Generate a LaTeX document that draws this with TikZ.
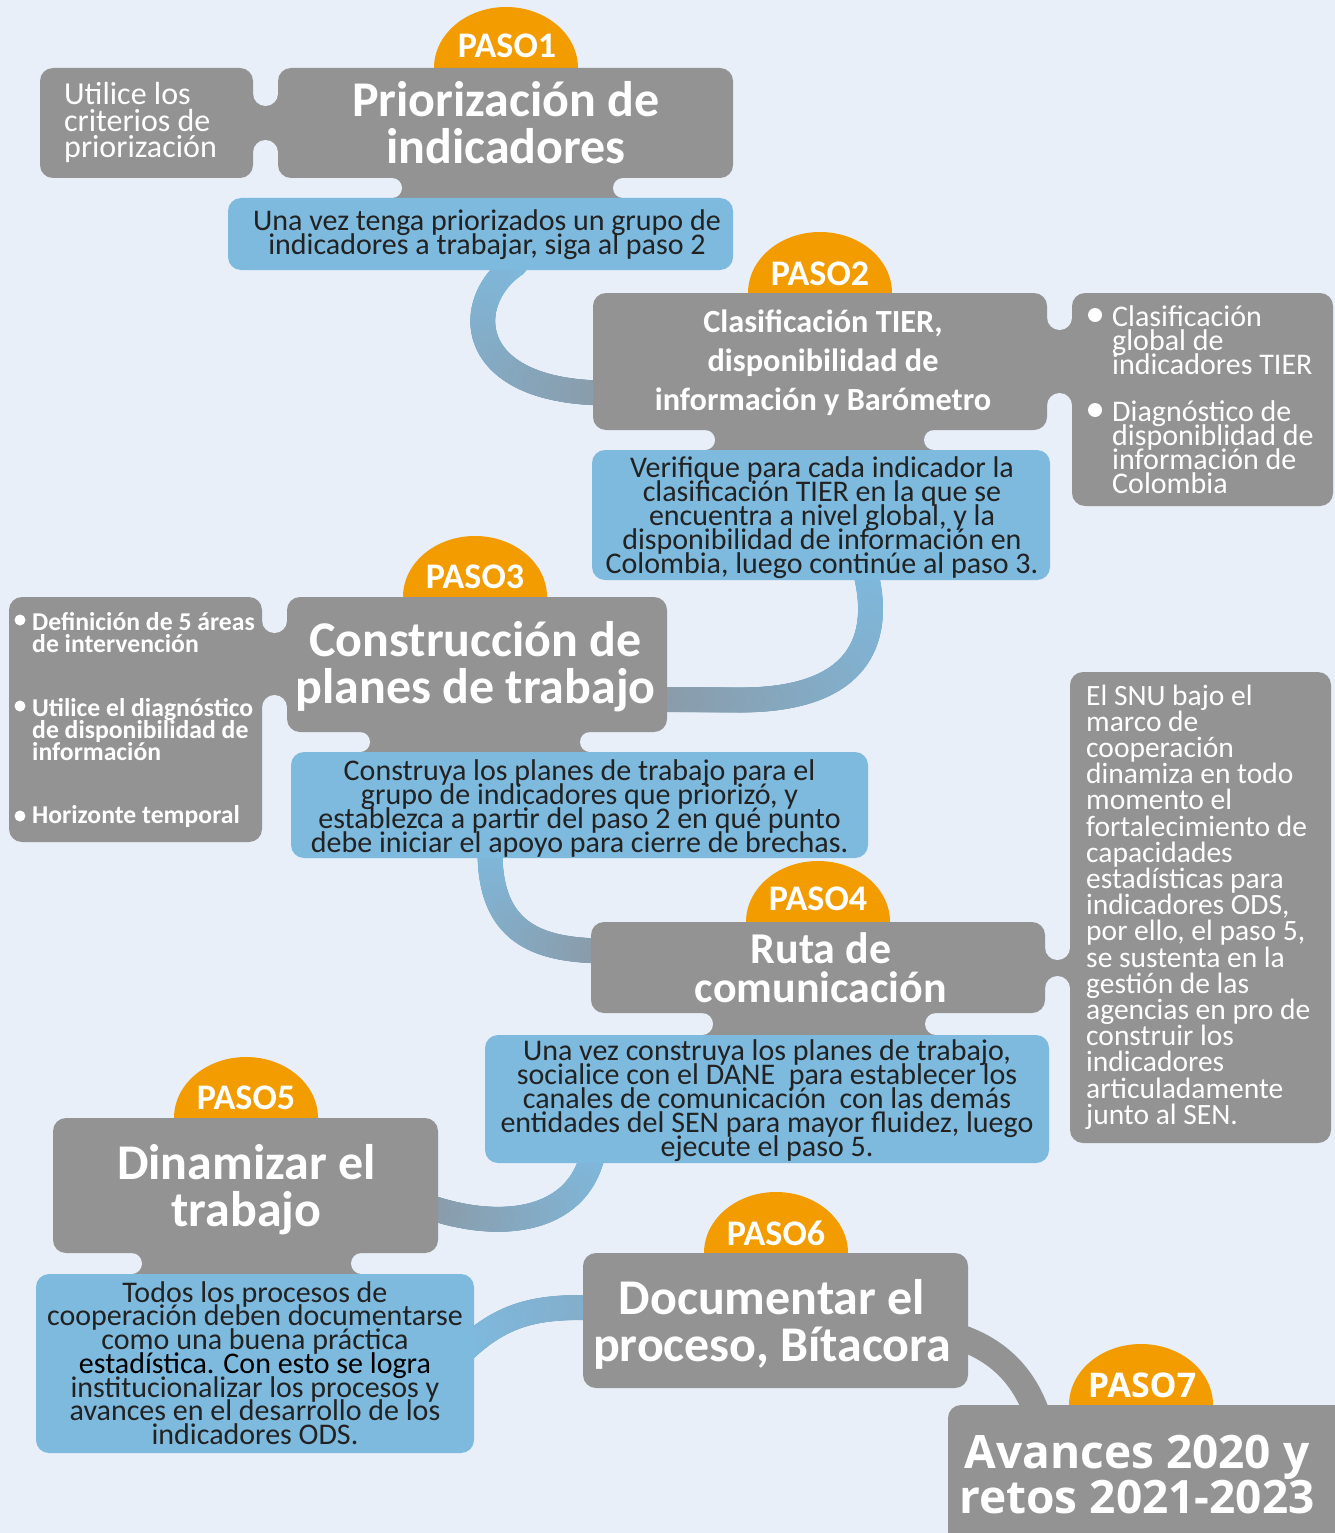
\documentclass[tikz,border=0pt]{standalone}
\usepackage{fontspec}
\setmainfont{Carlito}
\newfontfamily\osans{Open Sans}
\usetikzlibrary{shapes.geometric,decorations.markings}
\definecolor{bgc}{RGB}{232,239,249}
\definecolor{boxgray}{RGB}{147,147,147}
\definecolor{boxblue}{RGB}{126,185,222}
\definecolor{pasoorange}{RGB}{243,156,0}
\definecolor{txtdark}{RGB}{34,34,34}
\definecolor{congray}{RGB}{138,156,170}
\definecolor{conmid}{RGB}{132,172,200}
\pgfdeclarelayer{bglayer}
\pgfdeclarelayer{bandlayer}
\pgfsetlayers{bglayer,bandlayer,main}
\newcommand\fs[2]{\fontsize{#1}{#2}\selectfont\lineskiplimit=-1000pt\relax}
\newcommand\mkbox[6]{%
  \node[#1, minimum width={#5-#3}, minimum height={#6-#4}] (#2) at ({(#3+#5)/2},{(#4+#6)/2}) {};}
\newcommand\hneck[4]{%
  \pgfmathsetmacro\neckr{(#2-#1)/2}%
  \pgfmathsetmacro\neckc{(#1+#2)/2}%
  \fill[boxgray] ({#1-1},{#3-\neckr}) rectangle ({#2+1},{#4+\neckr});
  \fill[bgc] (\neckc,{#3-\neckr}) circle[radius=\neckr pt];
  \fill[bgc] (\neckc,{#4+\neckr}) circle[radius=\neckr pt];}
\newcommand\vneck[4]{%
  \pgfmathsetmacro\neckr{(#4-#3)/2}%
  \pgfmathsetmacro\neckc{(#3+#4)/2}%
  \fill[boxgray] ({#1-\neckr},{#3-1}) rectangle ({#2+\neckr},{#4+1});
  \fill[bgc] ({#1-\neckr},\neckc) circle[radius=\neckr pt];
  \fill[bgc] ({#2+\neckr},\neckc) circle[radius=\neckr pt];}
\tikzset{
  box/.style={rectangle, rounded corners=13pt, inner sep=0pt, draw=none},
  graybox/.style={box, fill=boxgray},
  bluebox/.style={box, fill=boxblue},
  dome/.style={ellipse, fill=pasoorange, inner sep=0pt, minimum width=144pt, minimum height=122pt},
  pasotxt/.style={text=white, font=\fs{36}{36}\bfseries, inner sep=0pt},
  titletxt/.style={text=white, font=\fs{50}{47}\bfseries, align=center, inner sep=0pt},
  bluetxt/.style={text=txtdark, font=\fs{30}{24}, align=center, inner sep=0pt},
  sidetxt/.style={text=white, align=left, inner sep=0pt, anchor=west},
  gband/.style 2 args={postaction={decorate, decoration={markings,
    mark=between positions 0 and 1 step 1pt with {%
      \pgfmathsetmacro\fracv{(\pgfkeysvalueof{/pgf/decoration/mark info/distance from start})/(\pgfdecoratedpathlength)}%
      \pgfmathsetmacro\mixv{max(0,min(100,100-100*\fracv))}%
      \fill[#1!\mixv!#2] (0,0) circle (12.5pt);}}}},
}
\begin{document}
\begin{tikzpicture}[x=1pt,y=-1pt]
\useasboundingbox (0,0) rectangle (1335,1533);
\begin{pgfonlayer}{bglayer}
\fill[bgc] (0,0) rectangle (1335,1533);
\end{pgfonlayer}
% domes
\node[dome] (d1) at (506,68) {};
\node[dome] (d2) at (820,293) {};
\node[dome] (d3) at (475,597) {};
\node[dome] (d4) at (818,922) {};
\node[dome] (d5) at (246,1118) {};
\node[dome] (d6) at (776,1253) {};
\node[dome] (d7) at (1141,1405) {};
% necks
\hneck{253}{278}{106}{140}
\hneck{1047}{1072}{330}{393}
\hneck{262}{287}{633}{695}
\hneck{1045}{1070}{960}{976}
\vneck{402}{613}{178}{198}
\vneck{715}{924}{430}{450}
\vneck{370}{580}{732}{752}
\vneck{713}{925}{1013}{1035}
\vneck{142}{351}{1253}{1274}
% boxes
\mkbox{graybox}{s1}{40}{68}{253}{178}
\mkbox{graybox}{b1}{278}{68}{733}{178}
\mkbox{bluebox}{t1}{228}{198}{733}{270}
\mkbox{graybox}{b2}{593}{293}{1047}{430}
\mkbox{graybox}{s2}{1072}{293}{1333}{506}
\mkbox{bluebox}{t2}{592}{450}{1050}{580}
\mkbox{graybox}{b3}{287}{597}{667}{732}
\mkbox{graybox}{s3}{9}{597}{262}{842}
\mkbox{bluebox}{t3}{291}{752}{868}{858}
\mkbox{graybox}{b4}{591}{922}{1045}{1013}
\mkbox{graybox}{s4}{1070}{672}{1331}{1143}
\mkbox{bluebox}{t4}{485}{1035}{1049}{1163}
\mkbox{graybox}{b5}{53}{1118}{438}{1253}
\mkbox{bluebox}{t5}{36}{1274}{474}{1453}
\mkbox{graybox}{b6}{583}{1253}{968}{1388}
\mkbox{graybox}{b7}{948}{1405}{1350}{1560}
% connectors
\begin{pgfonlayer}{bandlayer}
\coordinate (A1) at ([xshift=35pt,yshift=6pt]t1.south);
\coordinate (A2) at ([xshift=15pt,yshift=-31.5pt]b2.west);
\path[gband={boxblue}{congray}] (A1) .. controls (462,300) and (462,393) .. (A2);
\coordinate (B1) at ([xshift=45pt,yshift=6pt]t2.south);
\coordinate (B2) at ([xshift=-12pt,yshift=-35pt]b3.east);
\path[gband={boxblue}{congray}] (B1) .. controls (876,615) and (882,700) .. (740,700) -- (B2);
\coordinate (C1) at ([xshift=-89.5pt,yshift=6pt]t3.south);
\coordinate (C2) at ([xshift=12pt,yshift=16.5pt]b4.west);
\path[gband={boxblue}{congray}] (C1) .. controls (490,935) and (540,950) .. (C2);
\coordinate (D1) at ([xshift=-175pt,yshift=6pt]t4.south);
\coordinate (D2) at ([xshift=-12pt,yshift=-20.5pt]b5.east);
\path[gband={boxblue}{congray}] (D1) .. controls (575,1222) and (500,1232) .. (D2);
\coordinate (E1) at ([xshift=12pt,yshift=12.5pt]b6.west);
\coordinate (E2) at ([xshift=-12pt,yshift=11.5pt]t5.east);
\path[gband={conmid}{boxblue}] (E1) .. controls (530,1305) and (498,1318) .. (E2);
\coordinate (F1) at ([xshift=-12pt,yshift=-15.5pt]b6.east);
\coordinate (F2) at ([xshift=-111pt,yshift=-12pt]b7.north);
\draw[boxgray, line width=26pt] (F1) .. controls (1000,1350) and (1025,1378) .. (F2);
\end{pgfonlayer}
% PASO labels
\node[pasotxt] (p1) at (507,46) {PASO1};
\node[pasotxt] (p2) at (820,274) {PASO2};
\node[pasotxt] (p3) at (475,577) {PASO3};
\node[pasotxt] (p4) at (818,899) {PASO4};
\node[pasotxt] (p5) at (246,1098) {PASO5};
\node[pasotxt] (p6) at (776,1233) {PASO6};
\node[pasotxt, font=\osans\fs{34}{34}\bfseries] (p7) at (1142,1385) {PASO7};
% step 1
\node[sidetxt, font=\fs{32}{26.5}] (s1t) at (64,122.5) {Utilice los\\criterios de\\priorización};
\node[titletxt] (b1t) at (506,123) {Priorización de\\indicadores};
\node[bluetxt] (t1t) at (487,235) {Una vez tenga priorizados un grupo de\\indicadores a trabajar, siga al paso 2};
% step 2
\node[titletxt, font=\fs{32.3}{39}\bfseries] (b2t) at (823,363) {Clasificación TIER,\\disponibilidad de\\información y Barómetro};
\fill[white] (1095,315) circle[radius=7pt];
\fill[white] (1095,410) circle[radius=7pt];
\node[sidetxt, font=\fs{30}{24}] (s2t) at (1112,400) {Clasificación\\global de\\indicadores TIER\\[23pt]Diagnóstico de\\disponiblidad de\\información de\\Colombia};
\node[bluetxt] (t2t) at (822,518) {Verifique para cada indicador la\\clasificación TIER en la que se\\encuentra a nivel global, y la\\disponibilidad de información en\\Colombia, luego continúe al paso 3.};
% step 3
\node[titletxt] (b3t) at (475.5,667) {Construcción de\\planes de trabajo};
\fill[white] (20,620) circle[radius=5.5pt];
\fill[white] (20,706) circle[radius=5.5pt];
\fill[white] (20,816) circle[radius=5.5pt];
\node[sidetxt, font=\fs{25.7}{22}\bfseries] (s3a) at (32,633) {Definición de 5 áreas\\de intervención};
\node[sidetxt, font=\fs{25.7}{22}\bfseries] (s3b) at (32,730) {Utilice el diagnóstico\\de disponibilidad de\\información};
\node[sidetxt, font=\fs{25.7}{22}\bfseries] (s3c) at (32,816) {Horizonte temporal};
\node[bluetxt] (t3t) at (579.5,808) {Construya los planes de trabajo para el\\grupo de indicadores que priorizó, y\\establezca a partir del paso 2 en qué punto\\debe iniciar el apoyo para cierre de brechas.};
% step 4
\node[titletxt, font=\fs{44}{39}\bfseries] (b4t) at (821,968) {Ruta de\\comunicación};
\node[sidetxt, font=\fs{29.5}{26.2}] (s4t) at (1086,907) {El SNU bajo el\\marco de\\cooperación\\dinamiza en todo\\momento el\\fortalecimiento de\\capacidades\\estadísticas para\\indicadores ODS,\\por ello, el paso 5,\\se sustenta en la\\gestión de las\\agencias en pro de\\construir los\\indicadores\\articuladamente\\junto al SEN.};
\node[bluetxt] (t4t) at (767,1101) {Una vez construya los planes de trabajo,\\socialice con el DANE\ \ para establecer los\\canales de comunicación\ \ con las demás\\entidades del SEN para mayor fluidez, luego\\ejecute el paso 5.};
% step 5
\node[titletxt] (b5t) at (246.5,1190) {Dinamizar el\\trabajo};
\node[bluetxt, font=\fs{30}{23.7}] (t5t) at (255,1363) {Todos los procesos de\\cooperación deben documentarse\\como una buena práctica\\{\color{black}estadística. Con esto se logra}\\institucionalizar los procesos y\\avances en el desarrollo de los\\indicadores ODS.};
% step 6
\node[titletxt] (b6t) at (772,1324.5) {Documentar el\\proceso, Bítacora};
% step 7
\node[titletxt, font=\osans\fs{46}{45}\bfseries] (b7t) at (1137,1474.5) {Avances 2020 y\\retos 2021-2023};
\end{tikzpicture}
\end{document}
